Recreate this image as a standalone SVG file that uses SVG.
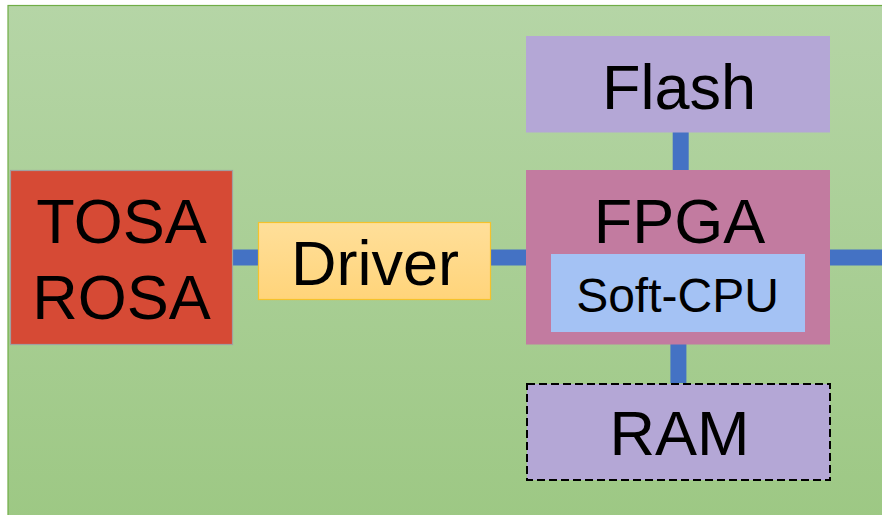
<svg xmlns="http://www.w3.org/2000/svg" width="882" height="515" viewBox="0 0 882 515">
<defs>
<linearGradient id="bg" x1="0" y1="0" x2="0" y2="1">
<stop offset="0" stop-color="#b5d5a6"/>
<stop offset="1" stop-color="#9dc884"/>
</linearGradient>
<linearGradient id="drv" x1="0" y1="0" x2="0" y2="1">
<stop offset="0" stop-color="#ffdf9a"/>
<stop offset="1" stop-color="#ffd47a"/>
</linearGradient>
<style>
text{font-family:"Liberation Sans",Arial,sans-serif;fill:#000;text-anchor:middle}
.big{font-size:63px}
.small{font-size:48px}
.wire{stroke:#4472c4;stroke-width:16;fill:none}
</style>
</defs>
<rect width="882" height="515" fill="#ffffff"/>
<rect x="8" y="5.5" width="880" height="515" fill="url(#bg)" stroke="#70ad47" stroke-width="1.2"/>
<g id="connectors">
<line class="wire" x1="226" y1="257.5" x2="258" y2="257.5"/>
<line class="wire" x1="491" y1="257.5" x2="526" y2="257.5"/>
<line class="wire" x1="830" y1="257.5" x2="882" y2="257.5"/>
<line class="wire" x1="680.7" y1="132" x2="680.7" y2="170"/>
<line class="wire" x1="678.4" y1="344" x2="678.4" y2="383"/>
</g>
<g id="tosa">
<rect x="10.5" y="170.5" width="222" height="174" fill="#d64a35" stroke="#a0a0a0" stroke-width="1.2"/>
<text class="big" x="121.5" y="243">TOSA</text>
<text class="big" x="121.5" y="319">ROSA</text>
</g>
<g id="driver">
<rect x="258.5" y="222.5" width="232" height="77" fill="url(#drv)" stroke="#f5c22c" stroke-width="1.2"/>
<text class="big" x="375" y="285">Driver</text>
</g>
<g id="flash">
<rect x="526" y="36" width="304" height="96.5" fill="#b4a7d6"/>
<text class="big" x="679" y="109">Flash</text>
</g>
<g id="fpga">
<rect x="526" y="170" width="304" height="174.5" fill="#c27ba0"/>
<text class="big" x="679.5" y="242.5">FPGA</text>
<g id="softcpu">
<rect x="551" y="254" width="254" height="78" fill="#a4c2f4"/>
<text class="small" x="677.5" y="311.5">Soft-CPU</text>
</g>
</g>
<g id="ram">
<rect x="527" y="384" width="303" height="96" fill="#b4a7d6" stroke="#000" stroke-width="2" stroke-dasharray="8,4"/>
<text class="big" x="679.5" y="455">RAM</text>
</g>
</svg>
